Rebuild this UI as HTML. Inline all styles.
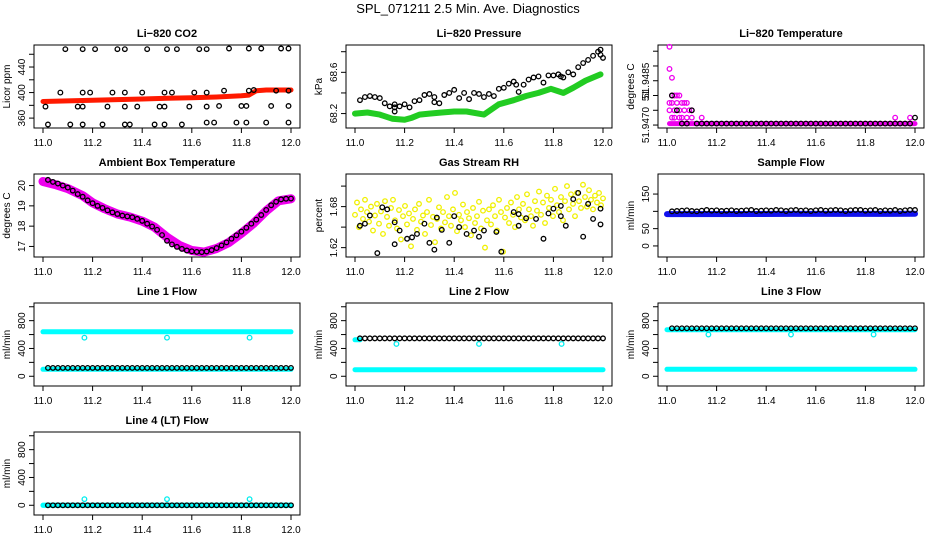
<!DOCTYPE html>
<html><head><meta charset="utf-8">
<style>
html,body{margin:0;padding:0;background:#fff;}
svg{display:block;font-family:"Liberation Sans",Arial,sans-serif;}
.tt{font-size:11px;font-weight:bold;text-anchor:middle;}
.tk{font-size:10px;text-anchor:middle;}
.yl{font-size:10px;text-anchor:middle;}
</style></head>
<body>
<svg id="chart" width="936" height="540" viewBox="0 0 936 540" xmlns="http://www.w3.org/2000/svg">
<text x="468" y="13" style="font-size:13px;text-anchor:middle">SPL_071211  2.5 Min. Ave. Diagnostics</text>
</svg>
<script>
// ---------- shared data ----------
const xTicks = [11.0, 11.2, 11.4, 11.6, 11.8, 12.0];
const xTickLabels = ["11.0", "11.2", "11.4", "11.6", "11.8", "12.0"];
const blackTimes = [11.02,11.04,11.06,11.08,11.10,11.12,11.14,11.16,11.18,11.20,11.22,11.24,11.26,11.28,11.30,11.32,11.34,11.36,11.38,11.40,11.42,11.44,11.46,11.48,11.50,11.52,11.54,11.56,11.58,11.60,11.62,11.64,11.66,11.68,11.70,11.72,11.74,11.76,11.78,11.80,11.82,11.84,11.86,11.88,11.90,11.92,11.94,11.96,11.98,12.00];

// CO2
const co2Times = [11.01,11.02,11.07,11.09,11.11,11.14,11.16,11.16,11.16,11.16,11.19,11.21,11.24,11.26,11.28,11.30,11.33,11.33,11.33,11.33,11.35,11.38,11.40,11.42,11.45,11.47,11.49,11.49,11.49,11.50,11.52,11.54,11.56,11.59,11.61,11.63,11.66,11.66,11.66,11.66,11.69,11.71,11.73,11.75,11.78,11.80,11.82,11.82,11.83,11.83,11.85,11.88,11.90,11.92,11.94,11.96,11.99,11.99,11.99,11.99];
const co2Values = [378,350,400,468,350,378,468,400,378,350,400,468,350,378,400,468,468,400,378,350,350,378,400,468,350,378,400,378,350,468,400,468,350,378,400,468,468,400,378,353,353,379,403,469,353,379,379,353,469,403,404,469,353,379,403,469,469,403,379,353];
const co2BandTimes = [11.0,11.1,11.2,11.3,11.4,11.5,11.6,11.7,11.8,11.83,11.86,11.9,12.0];
const co2BandValues = [386,387,388,389,390,391,392,393,395,396,403,404,404];

// Pressure
const presTimes = [11.02,11.04,11.06,11.08,11.10,11.12,11.14,11.16,11.16,11.16,11.18,11.20,11.22,11.24,11.26,11.28,11.30,11.32,11.32,11.34,11.36,11.38,11.40,11.42,11.44,11.46,11.48,11.50,11.52,11.54,11.56,11.58,11.60,11.62,11.64,11.65,11.66,11.68,11.70,11.72,11.74,11.76,11.78,11.80,11.82,11.83,11.84,11.86,11.88,11.90,11.92,11.94,11.96,11.98,11.99,11.99,12.00];
const presValues = [68.33,68.36,68.37,68.36,68.35,68.30,68.27,68.29,68.26,68.22,68.27,68.29,68.26,68.32,68.33,68.38,68.39,68.36,68.31,68.30,68.38,68.40,68.43,68.35,68.40,68.34,68.40,68.39,68.36,68.39,68.37,68.44,68.45,68.49,68.51,68.48,68.41,68.48,68.53,68.55,68.56,68.50,68.57,68.57,68.58,68.56,68.55,68.60,68.58,68.65,68.69,68.72,68.76,68.80,68.82,68.77,68.74];
const presBandTimes = [11.0,11.05,11.1,11.15,11.2,11.23,11.26,11.3,11.35,11.4,11.45,11.52,11.58,11.64,11.69,11.74,11.79,11.84,11.88,11.93,11.99];
const presBandValues = [68.20,68.21,68.19,68.15,68.14,68.16,68.19,68.20,68.21,68.22,68.22,68.19,68.29,68.33,68.37,68.40,68.44,68.40,68.45,68.52,68.58];

// Li-820 temperature
const tempPinkTimes = [11.01,11.01,11.02,11.02,11.03,11.04,11.05,11.01,11.02,11.04,11.06,11.07,11.08,11.01,11.03,11.05,11.07,11.09,11.10,11.02,11.03,11.05,11.06,11.08,11.10,11.14,11.92,11.98];
const tempPinkValues = [51.94965,51.9489,51.9486,51.9480,51.9480,51.9480,51.9480,51.94775,51.94775,51.94775,51.94775,51.94775,51.94775,51.9475,51.9475,51.9475,51.9475,51.9475,51.9475,51.94725,51.94725,51.94725,51.94725,51.94725,51.94725,51.94725,51.94725,51.94725];
const tempBaseTimes = [11.01,12.0];
const tempBaseValues = [51.94705,51.94705];
const tempBlackValues = [51.9480,51.9475,51.94705,51.94705,51.9475,51.94705,51.94705,51.94705,51.94705,51.94705,51.94705,51.94705,51.94705,51.94705,51.94705,51.94705,51.94705,51.94705,51.94705,51.94705,51.94705,51.94705,51.94705,51.94705,51.94705,51.94705,51.94705,51.94705,51.94705,51.94705,51.94705,51.94705,51.94705,51.94705,51.94705,51.94705,51.94705,51.94705,51.94705,51.94705,51.94705,51.94705,51.94705,51.94705,51.94705,51.94705,51.94705,51.94705,51.94705,51.94725];

// Ambient box temperature
const ambBandTimes = [11.0,11.05,11.1,11.16,11.2,11.25,11.3,11.35,11.4,11.45,11.5,11.55,11.6,11.65,11.7,11.75,11.8,11.85,11.9,11.95,12.0];
const ambBandValues = [20.2,20.05,19.85,19.5,19.15,18.85,18.6,18.45,18.25,17.95,17.45,17.05,16.8,16.72,16.9,17.2,17.65,18.15,18.75,19.25,19.35];
const ambBlackValues = [20.28,20.18,20.1,20.0,19.9,19.75,19.58,19.45,19.27,19.13,19.0,18.9,18.78,18.68,18.6,18.52,18.48,18.44,18.36,18.26,18.12,17.98,17.82,17.56,17.28,17.1,16.98,16.88,16.8,16.76,16.73,16.72,16.75,16.82,16.92,17.05,17.2,17.38,17.55,17.73,17.92,18.12,18.32,18.55,18.8,19.03,19.2,19.32,19.35,19.36];

// Gas stream RH
const rhBlackTimes = [11.02,11.04,11.06,11.09,11.11,11.13,11.16,11.16,11.18,11.21,11.23,11.25,11.28,11.30,11.32,11.33,11.35,11.38,11.40,11.42,11.45,11.48,11.50,11.52,11.57,11.59,11.64,11.66,11.66,11.69,11.73,11.76,11.78,11.80,11.83,11.83,11.85,11.88,11.90,11.92,11.94,11.96,11.99,11.99];
const rhBlackValues = [1.652,1.655,1.667,1.612,1.679,1.676,1.657,1.625,1.645,1.633,1.635,1.640,1.655,1.627,1.617,1.664,1.646,1.627,1.666,1.650,1.640,1.645,1.636,1.645,1.643,1.614,1.672,1.669,1.652,1.663,1.662,1.633,1.670,1.677,1.681,1.666,1.652,1.691,1.700,1.636,1.684,1.662,1.677,1.654];
const rhYellowValues = [1.668,1.686,1.650,1.676,1.662,1.690,1.672,1.658,1.680,1.645,1.667,1.684,1.655,1.673,1.640,1.688,1.665,1.652,1.678,1.690,1.660,1.648,1.675,1.632,1.666,1.681,1.654,1.670,1.622,1.662,1.676,1.646,1.684,1.658,1.667,1.640,1.672,1.690,1.653,1.665,1.628,1.662,1.679,1.648,1.672,1.657,1.694,1.666,1.652,1.676,1.700,1.644,1.668,1.660,1.683,1.650,1.672,1.663,1.638,1.678,1.656,1.666,1.687,1.648,1.674,1.620,1.660,1.676,1.654,1.682,1.666,1.645,1.690,1.672,1.614,1.664,1.678,1.656,1.686,1.668,1.650,1.694,1.676,1.664,1.684,1.660,1.698,1.676,1.666,1.652,1.688,1.674,1.702,1.668,1.686,1.656,1.696,1.678,1.690,1.666,1.706,1.682,1.672,1.694,1.660,1.688,1.710,1.676,1.698,1.684,1.666,1.700,1.688,1.678,1.712,1.694,1.680,1.704,1.690,1.676,1.696,1.686,1.700,1.682,1.692];

// Sample flow
const sampleBlackValues = [100,101,102,103,101,100,102,104,102,103,101,102,103,101,102,103,104,101,102,103,102,104,103,101,103,104,102,103,101,103,104,102,103,104,103,101,103,104,104,102,103,104,101,103,102,104,101,103,104,104];
const sampleBandTimes = [11.0,11.5,12.0];
const sampleBandValues = [92,92.5,93];

// Line flows
const line1Black = 120, line1HiTimes=[11.0,12.0], line1HiValues=[640,640], line1LoTimes=[11.0,12.0], line1LoValues=[100,100];
const line1OutTimes=[11.167,11.5,11.833], line1OutValues=[555,555,555];
const line2Black = 545, line2HiTimes=[11.0,11.02], line2HiValues=[525,525], line2LoTimes=[11.0,12.0], line2LoValues=[95,95];
const line2OutTimes=[11.167,11.5,11.833], line2OutValues=[465,465,465];
const line3Black = 690, line3HiTimes=[11.0,12.0], line3HiValues=[670,670], line3LoTimes=[11.0,12.0], line3LoValues=[100,100];
const line3OutTimes=[11.167,11.5,11.833], line3OutValues=[600,600,600];
const line4Black = 0, line4HiTimes=[11.0,12.0], line4HiValues=[0,0], line4LoTimes=[11.0,12.0], line4LoValues=[0,0];
const line4OutTimes=[11.167,11.5,11.833], line4OutValues=[88,88,88];

const svg = document.getElementById('chart');
const NS = 'http://www.w3.org/2000/svg';
function mk(tag, attrs, parent){ const e=document.createElementNS(NS,tag); for(const k in attrs) e.setAttribute(k,attrs[k]); (parent||svg).appendChild(e); return e; }

function panel(col,row,name,title,ylab,ymin,ymax,yticks,ylabels){
  const L=34+col*312, T=45+row*129, W=266, H=83;
  const g=mk('g',{});
  
  
  const P={L,T,W,H,g,
    x:t=>L+9+(t-11)*248,
    y:v=>T+H-(v-ymin)/(ymax-ymin)*H};
  const tt=mk('text',{x:L+W/2,y:T-8,class:'tt'},g); tt.textContent=title;
  
  
  const box=mk('rect',{x:L,y:T,width:W,height:H,fill:'none',stroke:'#000','stroke-width':1},g);
  
  
  const xa=mk('g',{},g);
  
  
  mk('line',{x1:P.x(11),x2:P.x(12),y1:T+H,y2:T+H,stroke:'#000'},xa);
  xTicks.forEach((t,i)=>{
    mk('line',{x1:P.x(t),x2:P.x(t),y1:T+H,y2:T+H+5,stroke:'#000'},xa);
    const tx=mk('text',{x:P.x(t),y:T+H+18,class:'tk'},xa); tx.textContent=xTickLabels[i];
  });
  const ya=mk('g',{},g);
  
  
  yticks.forEach((v,i)=>{
    const yy=P.y(v);
    mk('line',{x1:L-5,x2:L,y1:yy,y2:yy,stroke:'#000'},ya);
    if(ylabels[i]){ const tx=mk('text',{x:L-9,y:yy,class:'tk',transform:`rotate(-90 ${L-9} ${yy})`},ya); tx.textContent=ylabels[i]; }
  });
  mk('line',{x1:L,x2:L,y1:P.y(yticks[0]),y2:P.y(yticks[yticks.length-1]),stroke:'#000'},ya);
  const yl=mk('text',{x:L-24,y:T+H/2,class:'yl',transform:`rotate(-90 ${L-24} ${T+H/2})`},g); yl.textContent=ylab;
  
  
  return P;
}
function pts(P,times,vals,color,name,sw){
  const g=mk('g',{},P.g);
  
  
  times.forEach((t,i)=>{ mk('circle',{cx:P.x(t),cy:P.y(vals[i]),r:2.3,fill:'none',stroke:color,'stroke-width':sw||1.3},g); });
}
function band(P,times,vals,color,name,w){
  const d=times.map((t,i)=>P.x(t).toFixed(1)+','+P.y(vals[i]).toFixed(1)).join(' ');
  const pl=mk('polyline',{points:d,fill:'none',stroke:color,'stroke-width':w,'stroke-linejoin':'round','stroke-linecap':'round'},P.g);
  
  
}
const constArr=(n,v)=>blackTimes.map(()=>v);

// Panel 1 CO2
let P=panel(0,0,'co2','Li\u2212820 CO2','Licor ppm',344.5,474.5,[360,380,400,420,440,460],['360','','400','','440','']);
band(P,co2BandTimes,co2BandValues,'#ff1a00','co2-red-series',5);
pts(P,co2Times,co2Values,'#000','co2-black-points');

// Panel 2 Pressure
P=panel(1,0,'pressure','Li\u2212820 Pressure','kPa',68.06,68.865,[68.2,68.4,68.6,68.8],['68.2','','68.6','']);
band(P,presBandTimes,presBandValues,'#22cc22','pressure-green-series',6);
pts(P,presTimes,presValues,'#000','pressure-black-points');

// Panel 3 Li-820 Temp
P=panel(2,0,'li820-temp','Li\u2212820 Temperature','degrees C',51.94690,51.94971,[51.9470,51.9475,51.9480,51.9485,51.9490,51.9495],['51.9470','','51','51.9485','','']);
band(P,tempBaseTimes,tempBaseValues,'#ee00ee','temp-magenta-baseline',5);
pts(P,tempPinkTimes,tempPinkValues,'#ee00ee','temp-magenta-points');
pts(P,blackTimes,tempBlackValues,'#000','temp-black-points');

// Panel 4 Ambient
P=panel(0,1,'ambient','Ambient Box Temperature','degrees C',16.48,20.57,[17,18,19,20],['17','18','19','20']);
band(P,ambBandTimes,ambBandValues,'#ee00ee','ambient-magenta-series',9);
pts(P,blackTimes,ambBlackValues,'#000','ambient-black-points');

// Panel 5 RH
P=panel(1,1,'rh','Gas Stream RH','percent',1.6063,1.7277,[1.62,1.65,1.68,1.71],['1.62','','1.68','']);
const rhYellowTimes = rhYellowValues.map((v,i)=>11.0+i*(1.0/(rhYellowValues.length-1)));
pts(P,rhYellowTimes,rhYellowValues,'#f0f000','rh-yellow-points');
pts(P,rhBlackTimes,rhBlackValues,'#000','rh-black-points');

// Panel 6 Sample flow
P=panel(2,1,'sample-flow','Sample Flow','ml/min',-32,208,[0,50,100,150],['0','50','','150']);
band(P,sampleBandTimes,sampleBandValues,'#1010ee','sample-blue-series',6);
pts(P,blackTimes,sampleBlackValues,'#000','sample-black-points');

// Line flows
const lf=[[0,2,'line1','Line 1 Flow',line1Black,line1HiTimes,line1HiValues,line1LoTimes,line1LoValues,line1OutTimes,line1OutValues],
          [1,2,'line2','Line 2 Flow',line2Black,line2HiTimes,line2HiValues,line2LoTimes,line2LoValues,line2OutTimes,line2OutValues],
          [2,2,'line3','Line 3 Flow',line3Black,line3HiTimes,line3HiValues,line3LoTimes,line3LoValues,line3OutTimes,line3OutValues],
          [0,3,'line4','Line 4 (LT) Flow',line4Black,line4HiTimes,line4HiValues,line4LoTimes,line4LoValues,line4OutTimes,line4OutValues]];
lf.forEach(a=>{
  const Q=panel(a[0],a[1],a[2],a[3],'ml/min',-140,1054,[0,200,400,600,800,1000],['0','','400','','800','']);
  band(Q,a[5],a[6],'#00ffff',a[2]+'-cyan-high',5);
  band(Q,a[7],a[8],'#00ffff',a[2]+'-cyan-low',5);
  pts(Q,a[9],a[10],'#00eeee',a[2]+'-cyan-outliers');
  pts(Q,blackTimes,constArr(50,a[4]),'#000',a[2]+'-black-points');
});
</script>
</body></html>
